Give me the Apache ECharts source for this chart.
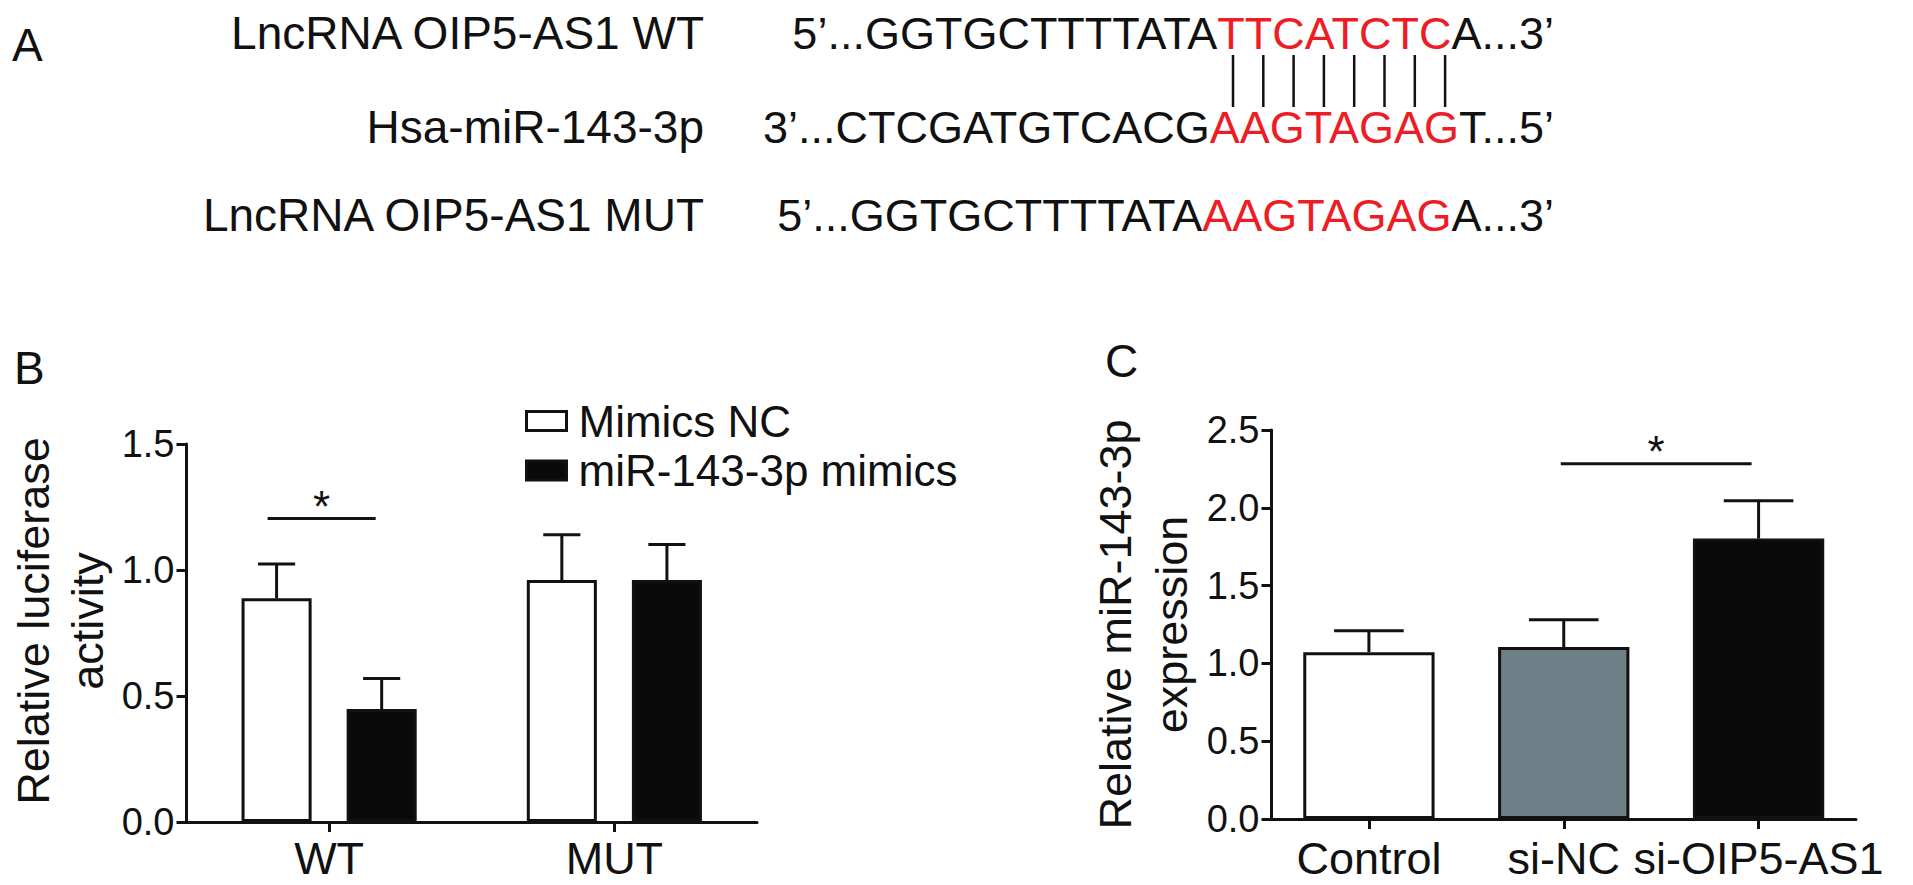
<!DOCTYPE html>
<html>
<head>
<meta charset="utf-8">
<script src="https://cdn.jsdelivr.net/npm/echarts@6/dist/echarts.min.js"></script>
<style>html,body{margin:0;padding:0;background:#fff;}#c{width:1913px;height:885px;}</style>
</head>
<body>
<div id="c"></div>
<script>
// ---------- DATA ----------
const seqLabels = ['LncRNA OIP5-AS1 WT', 'Hsa-miR-143-3p', 'LncRNA OIP5-AS1 MUT'];
const seqLeft = ['5’...GGTGCTTTTATA', '3’...CTCGATGTCACG', '5’...GGTGCTTTTATA'];
const seqSite = ['TTCATCTC', 'AAGTAGAG', 'AAGTAGAG'];
const seqRight = ['A...3’', 'T...5’', 'A...3’'];

const catB = ['WT', 'MUT'];
const namesB = ['Mimics NC', 'miR-143-3p mimics'];
const meanNC = [0.888, 0.960];
const errNC = [0.136, 0.180];
const meanMim = [0.448, 0.960];
const errMim = [0.121, 0.141];
const ticksB = [0, 0.5, 1.0, 1.5];
const sigB = [[0, 1.204]];           // [category, y]

const catC = ['Control', 'si-NC', 'si-OIP5-AS1'];
const meanC = [1.072, 1.105, 1.802];
const errC = [0.138, 0.175, 0.244];
const colorsC = ['#ffffff', '#6e7f87', '#0a0a0a'];
const ticksC = [0, 0.5, 1.0, 1.5, 2.0, 2.5];
const sigC = [[1, 2, 2.283]];        // [fromCat, toCat, y]

// ---------- STYLE ----------
const FONT = 'Liberation Sans, Arial, sans-serif';
const INK = '#111111';
const RED = '#ee1c24';
const GAP_B = 0.386, BARGAP_B = 0.5, GAP_C = 0.326;
const fillB = ['#ffffff', '#0a0a0a'];

const chart = echarts.init(document.getElementById('c'), null, {renderer: 'svg'});

function barCenter(api, idx, nBars, k, catGap, barGap) {
  const band = api.size([1, 0])[0];
  const bw = band * (1 - catGap) / (nBars + (nBars - 1) * barGap);
  const start = -band * (1 - catGap) / 2;
  const cx = api.coord([idx, 0])[0] + start + k * bw * (1 + barGap) + bw / 2;
  return {cx: cx, bw: bw};
}
function errRender(nBars, k, catGap, barGap) {
  return function (params, api) {
    const idx = api.value(0), mean = api.value(1), err = api.value(2);
    const b = barCenter(api, idx, nBars, k, catGap, barGap);
    const yBar = api.coord([idx, mean])[1];
    const yTop = api.coord([idx, mean + err])[1];
    const cap = b.bw * 0.53 / 2;
    const st = {stroke: INK, lineWidth: 3};
    return {type: 'group', children: [
      {type: 'line', shape: {x1: b.cx, y1: yBar, x2: b.cx, y2: yTop}, style: st},
      {type: 'line', shape: {x1: b.cx - cap, y1: yTop, x2: b.cx + cap, y2: yTop}, style: st}
    ]};
  };
}
function starText(x, y) {
  return {type: 'text', style: {text: '*', x: x, y: y, textAlign: 'center', textVerticalAlign: 'middle',
    font: '44px ' + FONT, fill: INK}};
}
function sigRenderB(params, api) {
  const idx = api.value(0), yv = api.value(1);
  const a = barCenter(api, idx, 2, 0, GAP_B, BARGAP_B);
  const b = barCenter(api, idx, 2, 1, GAP_B, BARGAP_B);
  const y = api.coord([idx, yv])[1];
  const x1 = a.cx - 9, x2 = b.cx - 6;
  return {type: 'group', children: [
    {type: 'line', shape: {x1: x1, y1: y, x2: x2, y2: y}, style: {stroke: INK, lineWidth: 3}},
    starText((x1 + x2) / 2, y - 12)
  ]};
}
function sigRenderC(params, api) {
  const i1 = api.value(0), i2 = api.value(1), yv = api.value(2);
  const x1 = api.coord([i1, 0])[0] - 3, x2 = api.coord([i2, 0])[0] - 7;
  const y = api.coord([i1, yv])[1];
  return {type: 'group', children: [
    {type: 'line', shape: {x1: x1, y1: y, x2: x2, y2: y}, style: {stroke: INK, lineWidth: 3}},
    starText((x1 + x2) / 2, y - 12)
  ]};
}

const axisLineStyle = {show: true, lineStyle: {color: INK, width: 3}};
const axisTickStyle = {show: true, length: 10, lineStyle: {color: INK, width: 3}};

// Panel A texts
const rowY = [33, 127, 215];
const graphics = [];
graphics.push({type: 'text', left: 12, top: 22, style: {text: 'A', font: '46px ' + FONT, fill: INK}});
graphics.push({type: 'text', left: 14, top: 345, style: {text: 'B', font: '46px ' + FONT, fill: INK}});
graphics.push({type: 'text', left: 1105, top: 338, style: {text: 'C', font: '46px ' + FONT, fill: INK}});
for (let i = 0; i < 3; i++) {
  graphics.push({type: 'text', x: 704, y: rowY[i], style: {text: seqLabels[i], textAlign: 'right',
    textVerticalAlign: 'middle', font: '46px ' + FONT, fill: INK}});
  graphics.push({type: 'text', x: 1554, y: rowY[i], style: {
    text: '{k|' + seqLeft[i] + '}{r|' + seqSite[i] + '}{k|' + seqRight[i] + '}',
    textAlign: 'right', textVerticalAlign: 'middle', font: '45px ' + FONT,
    rich: {k: {fill: INK, font: '45px ' + FONT}, r: {fill: RED, font: '45px ' + FONT}}}});
}
// base pairing bars between row 1 and row 2
const pairX0 = 1233, pairStep = 30.3;
for (let j = 0; j < seqSite[0].length; j++) {
  graphics.push({type: 'line', shape: {x1: pairX0 + j * pairStep, y1: 55, x2: pairX0 + j * pairStep, y2: 107},
    style: {stroke: INK, lineWidth: 2.5}});
}

const legendTops = [394, 443.5];
const legends = namesB.map((n, i) => ({
  orient: 'vertical', left: 520, top: legendTops[i], itemWidth: 40, itemHeight: 19,
  selectedMode: false,
  textStyle: {fontSize: 44, fontFamily: FONT, color: INK, padding: [0, 0, 0, 7]},
  data: [{name: n, icon: 'rect', itemStyle: {color: fillB[i], borderColor: INK, borderWidth: 3}}]
}));

const option = {
  backgroundColor: '#ffffff',
  animation: false,
  textStyle: {fontFamily: FONT},
  graphic: graphics,
  grid: [
    {left: 186.5, right: 1156, top: 444, bottom: 63, containLabel: false},
    {left: 1271.5, right: 57, top: 430, bottom: 66, containLabel: false}
  ],
  legend: legends,
  xAxis: [
    {type: 'category', gridIndex: 0, data: catB, axisLine: axisLineStyle,
     axisTick: Object.assign({alignWithLabel: true}, axisTickStyle),
     axisLabel: {fontSize: 45, fontFamily: FONT, color: INK, margin: 14, interval: 0}},
    {type: 'category', gridIndex: 1, data: catC, axisLine: axisLineStyle,
     axisTick: Object.assign({alignWithLabel: true}, axisTickStyle),
     axisLabel: {fontSize: 45, fontFamily: FONT, color: INK, margin: 17, interval: 0}}
  ],
  yAxis: [
    {type: 'value', gridIndex: 0, min: ticksB[0], max: ticksB[ticksB.length - 1], interval: 0.5,
     axisLine: axisLineStyle, axisTick: axisTickStyle, splitLine: {show: false},
     axisLabel: {fontSize: 38, fontFamily: FONT, color: INK, margin: 12, formatter: v => v.toFixed(1)},
     name: 'Relative luciferase\nactivity', nameLocation: 'middle', nameRotate: 90, nameGap: 72,
     nameTextStyle: {fontSize: 45, fontFamily: FONT, color: INK, lineHeight: 54, align: 'center',
       padding: [0, 0, 0, 24]}},
    {type: 'value', gridIndex: 1, min: ticksC[0], max: ticksC[ticksC.length - 1], interval: 0.5,
     axisLine: axisLineStyle, axisTick: axisTickStyle, splitLine: {show: false},
     axisLabel: {fontSize: 38, fontFamily: FONT, color: INK, margin: 12, formatter: v => v.toFixed(1)},
     name: 'Relative miR-143-3p\nexpression', nameLocation: 'middle', nameRotate: 90, nameGap: 72,
     nameTextStyle: {fontSize: 45, fontFamily: FONT, color: INK, lineHeight: 56, align: 'center'}}
  ],
  series: [
    {type: 'bar', name: namesB[0], xAxisIndex: 0, yAxisIndex: 0, data: meanNC,
     barCategoryGap: (GAP_B * 100) + '%', barGap: (BARGAP_B * 100) + '%',
     itemStyle: {color: fillB[0], borderColor: INK, borderWidth: 3}},
    {type: 'bar', name: namesB[1], xAxisIndex: 0, yAxisIndex: 0, data: meanMim,
     barCategoryGap: (GAP_B * 100) + '%', barGap: (BARGAP_B * 100) + '%',
     itemStyle: {color: fillB[1], borderColor: INK, borderWidth: 3}},
    {type: 'custom', name: 'errNC', xAxisIndex: 0, yAxisIndex: 0, renderItem: errRender(2, 0, GAP_B, BARGAP_B),
     data: meanNC.map((m, i) => [i, m, errNC[i]]), encode: {x: 0, y: 1}, z: 3},
    {type: 'custom', name: 'errMim', xAxisIndex: 0, yAxisIndex: 0, renderItem: errRender(2, 1, GAP_B, BARGAP_B),
     data: meanMim.map((m, i) => [i, m, errMim[i]]), encode: {x: 0, y: 1}, z: 3},
    {type: 'custom', name: 'sigB', xAxisIndex: 0, yAxisIndex: 0, renderItem: sigRenderB,
     data: sigB, encode: {x: 0, y: 1}, z: 3},
    {type: 'bar', name: 'expression', xAxisIndex: 1, yAxisIndex: 1,
     data: meanC.map((m, i) => ({value: m, itemStyle: {color: colorsC[i]}})),
     barCategoryGap: (GAP_C * 100) + '%',
     itemStyle: {borderColor: INK, borderWidth: 3}},
    {type: 'custom', name: 'errC', xAxisIndex: 1, yAxisIndex: 1, renderItem: errRender(1, 0, GAP_C, 0),
     data: meanC.map((m, i) => [i, m, errC[i]]), encode: {x: 0, y: 1}, z: 3},
    {type: 'custom', name: 'sigC', xAxisIndex: 1, yAxisIndex: 1, renderItem: sigRenderC,
     data: sigC, encode: {x: 0, y: 2}, z: 3}
  ]
};
chart.setOption(option);
</script>
</body>
</html>
